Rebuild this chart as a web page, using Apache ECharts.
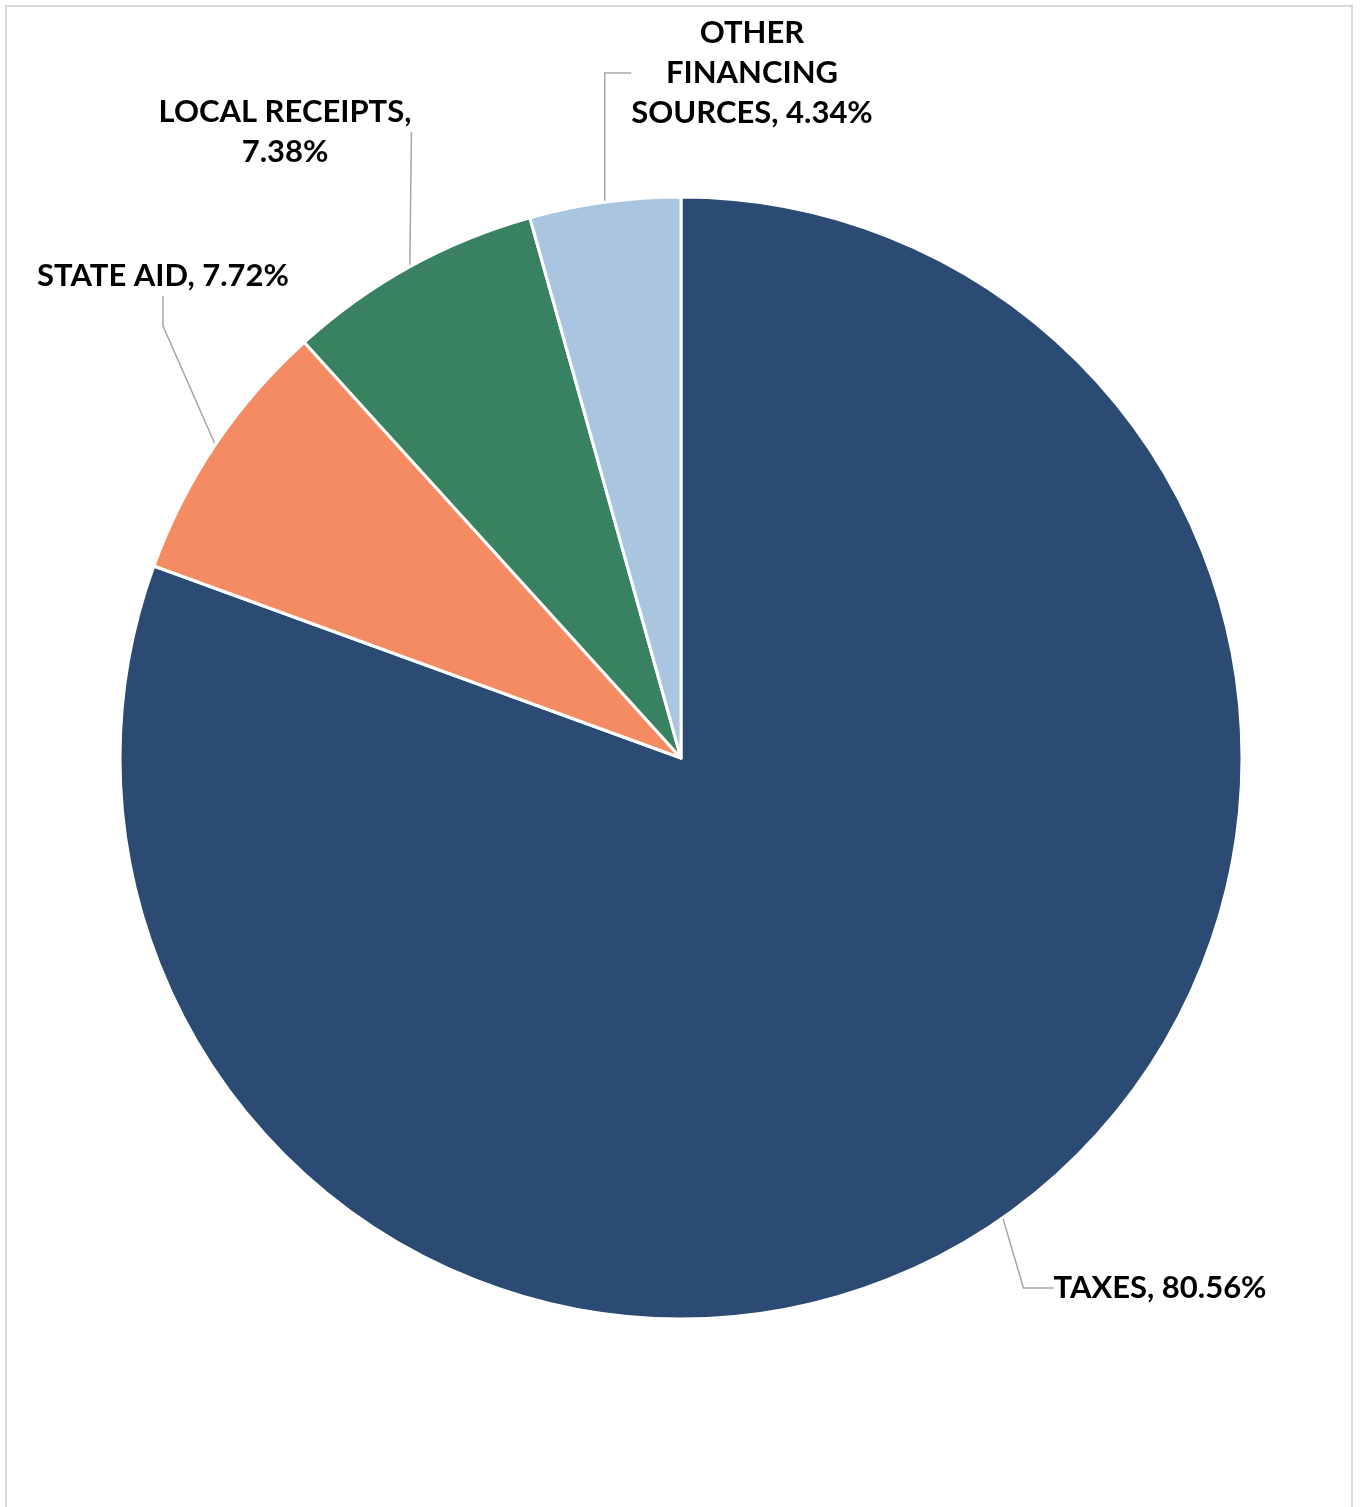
<!DOCTYPE html>
<html>
<head>
<meta charset="utf-8">
<script src="https://cdn.jsdelivr.net/npm/echarts@6/dist/echarts.min.js"></script>
<style>
  html, body { margin: 0; padding: 0; background: #fff; }
  #frame {
    position: absolute; left: 5px; top: 5px; width: 1348px; height: 1510px;
    border: 2px solid #d9d9d9; box-sizing: border-box;
  }
  #chart { position: absolute; left: 0; top: 0; width: 1360px; height: 1507px; }
</style>
</head>
<body>
<div id="frame"></div>
<div id="chart"></div>
<script>
// revenue sources, share of total (%)
var names = ["TAXES", "STATE AID", "LOCAL RECEIPTS", "OTHER FINANCING SOURCES"];
var values = [80.56, 7.72, 7.38, 4.34];
var colors = ["#2b4a74", "#f48b63", "#388161", "#a9c5e0"];
// how each label wraps in the picture
var labelLines = [
  ["TAXES, {v}%"],
  ["STATE AID, {v}%"],
  ["LOCAL RECEIPTS,", "{v}%"],
  ["OTHER", "FINANCING", "SOURCES, {v}%"]
];
// label centres (px)
var labelPos = [[1160, 1288], [163, 276], [285, 132], [752, 73]];

var chart = echarts.init(document.getElementById("chart"));
var option = {
  animation: false,
  series: [
    {
      type: "pie",
      center: [681, 758],
      radius: 561,
      startAngle: 90,
      clockwise: true,
      data: names.map(function (n, i) {
        return { name: n, value: values[i], itemStyle: { color: colors[i] } };
      }),
      itemStyle: { borderColor: "#fff", borderWidth: 3 },
      label: {
        show: true,
        formatter: function (p) {
          return labelLines[p.dataIndex].join("\n").replace("{v}", values[p.dataIndex].toFixed(2));
        },
        fontFamily: "Lato",
        fontWeight: "bold",
        fontSize: 31,
        lineHeight: 40,
        color: "#000",
        align: "center",
        overflow: "none"
      },
      labelLine: {
        show: true,
        lineStyle: { color: "#a6a6a6", width: 1.5 }
      },
      labelLayout: function (params) {
        var p = labelPos[params.dataIndex];
        return { x: p[0], y: p[1], align: "center", verticalAlign: "middle" };
      }
    }
  ]
};
chart.setOption(option);
window.addEventListener("resize", function () {
  chart.resize();
});
</script>
</body>
</html>
